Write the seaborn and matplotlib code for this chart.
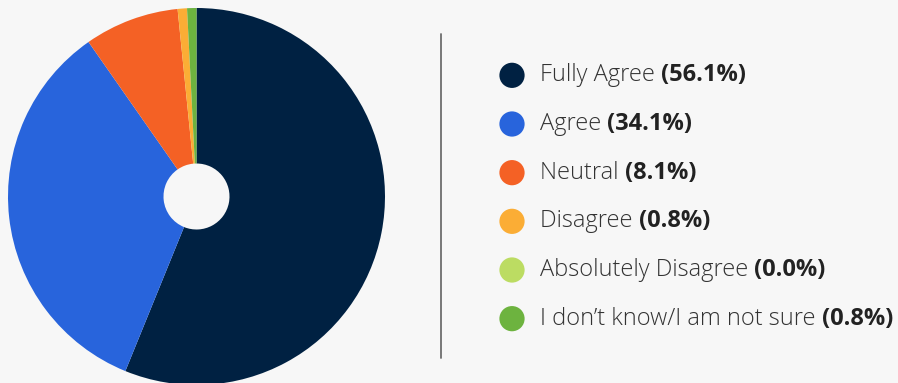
import matplotlib
matplotlib.use("Agg")
import matplotlib.pyplot as plt
import seaborn as sns
import pandas as pd

# survey answers, clockwise from 12 o'clock
labels = ["Fully Agree", "Agree", "Neutral", "Disagree",
          "Absolutely Disagree", "I don\u2019t know/I am not sure"]
shares = [56.1, 34.1, 8.1, 0.8, 0.0, 0.8]
colors = ["#002142", "#2864dc", "#f46125", "#fbad35", "#bcdc62", "#6db33f"]

bg = "#f7f7f7"
sns.set_style("white", {"axes.facecolor": bg, "figure.facecolor": bg})
plt.rcParams["font.family"] = ["Open Sans", "DejaVu Sans"]

W, H = 898, 383
fig = plt.figure(figsize=(W / 100, H / 100), dpi=100)
fig.patch.set_facecolor(bg)

# pie (donut with a small hole)
cx, cy, r = 196.5, 196.5, 188.5
ax = fig.add_axes([(cx - r) / W, (H - cy - r) / H, 2 * r / W, 2 * r / H])
ax.pie(shares, colors=colors, startangle=90, counterclock=False, radius=1,
       wedgeprops=dict(width=1 - 33 / r, linewidth=0))
ax.set_xlim(-1, 1)
ax.set_ylim(-1, 1)
ax.set_aspect("equal")
ax.axis("off")

# divider line
fig.add_artist(plt.Line2D([441 / W, 441 / W], [1 - 34 / H, 1 - 358 / H],
                          color="#6e6e6e", lw=1.3))

# legend
lx0, lx1 = 490, 898
ly0, ly1 = 51, 343
lax = fig.add_axes([lx0 / W, 1 - ly1 / H, (lx1 - lx0) / W, (ly1 - ly0) / H])
lax.set_facecolor("none")
df = pd.DataFrame({"label": labels, "share": shares, "x": 22.0,
                   "y": range(len(labels))})
sns.scatterplot(data=df, x="x", y="y", hue="label", palette=colors, s=330,
                linewidth=0, legend=False, ax=lax)
lax.set_xlim(0, lx1 - lx0)
lax.set_ylim(len(labels) - 0.5, -0.5)
lax.axis("off")

for i, row in df.iterrows():
    t = lax.text(50, row["y"], row["label"] + " ", fontsize=17,
                 fontweight="light", color="#333333", va="center", ha="left")
    lax.annotate(f"({row['share']:.1f}%)", xy=(1, 0), xycoords=t,
                 va="bottom", ha="left", fontsize=17, fontweight="bold",
                 color="#222222")

fig.savefig("out.png", dpi=100, facecolor=bg)
